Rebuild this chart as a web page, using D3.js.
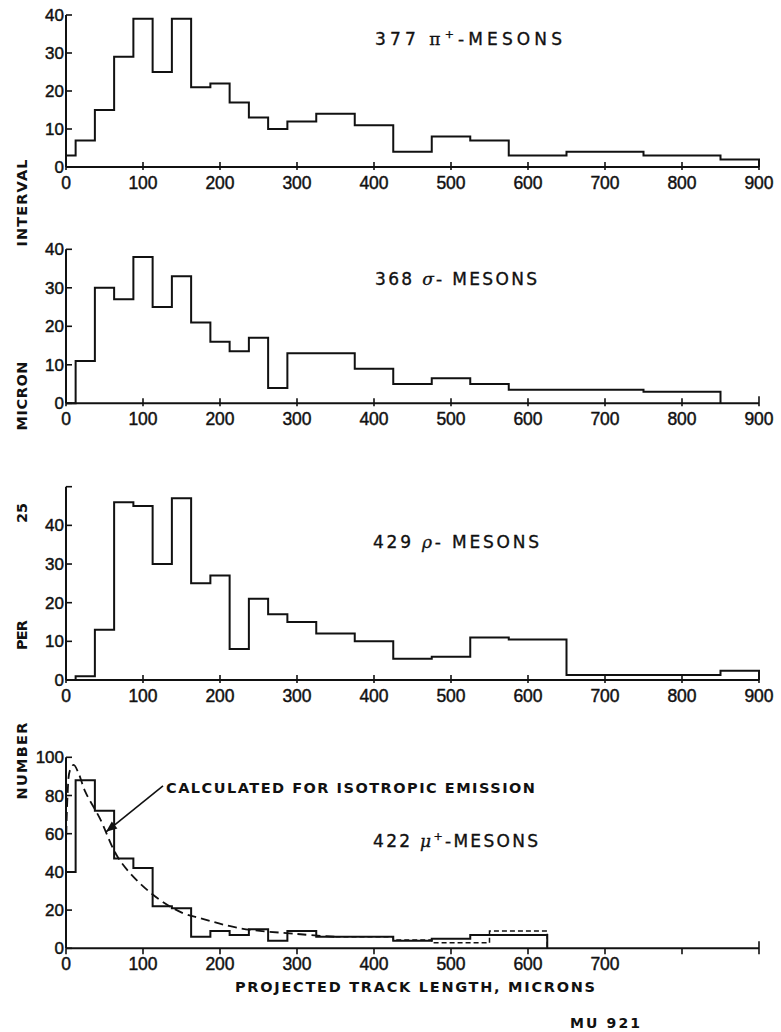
<!DOCTYPE html>
<html>
<head>
<meta charset="utf-8">
<script src="https://cdn.jsdelivr.net/npm/d3@7"></script>
<style>
  html, body { margin: 0; padding: 0; background: #fff; }
  svg { display: block; }
  text { fill: #111; }
</style>
</head>
<body>
<script>
// ---------------- DATA ----------------
// Bin edges (microns) and counts per 25-micron interval
const piEdges   = [0,12.5,37.5,62.5,87.5,112.5,137.5,162.5,187.5,212.5,237.5,262.5,287.5,325,375,425,475,525,575,650,750,850,900];
const piCounts  = [3,7,15,29,39,25,39,21,22,17,13,10,12,14,11,4,8,7,3,4,3,2];

const sigmaEdges  = [0,12.5,37.5,62.5,87.5,112.5,137.5,162.5,187.5,212.5,237.5,262.5,287.5,375,425,475,525,575,750,850];
const sigmaCounts = [0,11,30,27,38,25,33,21,16,13.5,17,4,13,9,5,6.5,5,3.5,3];

const rhoEdges  = [0,12.5,37.5,62.5,87.5,112.5,137.5,162.5,187.5,212.5,237.5,262.5,287.5,325,375,425,475,525,575,650,850,900];
const rhoCounts = [0,1,13,46,45,30,47,25,27,8,21,17,15,12,10,5.5,6,11,10.5,1.3,2.4];

const muEdges  = [0,12.5,37.5,62.5,87.5,112.5,137.5,162.5,187.5,212.5,237.5,262.5,287.5,325,425,475,525,625];
const muCounts = [40,88,72,47,42,22,21,6,9,7,10,4,9,6,4,5,7];

// Calculated curve for isotropic emission (mu+ panel)
const calcX = [0,2,5,10,16,25,44,70,113,152,174,226,300,350];
const calcY = [52,80,93,96,92,82,68,46,28,18.4,15.8,10.5,7.5,6];
const calcTailEdges = [350,425,475,550,625];
const calcTailY     = [6,4.3,2.9,9];

// Tick values / labels
const xTicksAll   = [0,100,200,300,400,500,600,700,800,900];
const xLabelsFull = ["0","100","200","300","400","500","600","700","800","900"];
const xLabelsMu   = ["0","100","200","300","400","500","600","700","",""];
const yTicks40  = [0,10,20,30,40];
const yTicks50  = [0,10,20,30,40,50];
const yLabels50 = ["0","10","20","30","40",""];
const yTicks100 = [0,20,40,60,80,100];

const yAxisWords = ["INTERVAL","MICRON","25","PER","NUMBER"];

// ---------------- DRAW ----------------
const W = 781, H = 1032;
const svg = d3.select("body").append("svg").attr("width", W).attr("height", H);
const FONT = "'DejaVu Sans', 'Liberation Sans', sans-serif";
const TICKFONT = "'Liberation Sans', 'DejaVu Sans', sans-serif";

const x = d3.scaleLinear().domain([0, 900]).range([66, 759]);

const panels = [
  { edges: piEdges, counts: piCounts, yMax: 40, range: [167, 15], yTicks: yTicks40, yLabels: yTicks40.map(String), xLabels: xLabelsFull },
  { edges: sigmaEdges, counts: sigmaCounts, yMax: 40, range: [403.3, 249.3], yTicks: yTicks40, yLabels: yTicks40.map(String), xLabels: xLabelsFull },
  { edges: rhoEdges, counts: rhoCounts, yMax: 50, range: [680, 486.7], yTicks: yTicks50, yLabels: yLabels50, xLabels: xLabelsFull },
  { edges: muEdges, counts: muCounts, yMax: 100, range: [948.3, 757.3], yTicks: yTicks100, yLabels: yTicks100.map(String), xLabels: xLabelsMu }
];

panels.forEach((p, i) => {
  const y = d3.scaleLinear().domain([0, p.yMax]).range(p.range);
  p.y = y;
  const g = svg.append("g");

  // x axis line
  g.append("line").attr("x1", x(0)).attr("x2", x(900)).attr("y1", y(0)).attr("y2", y(0))
    .attr("stroke", "#111").attr("stroke-width", 2);
  // x ticks
  g.selectAll(".xt").data(xTicksAll).enter().append("line")
    .attr("x1", d => x(d)).attr("x2", d => x(d))
    .attr("y1", d => y(0) + (i === 3 ? 6 : 3)).attr("y2", d => y(0) - (d === 900 ? 7 : (i === 3 ? 0 : 5)))
    .attr("stroke", "#111").attr("stroke-width", 1.6);
  // x labels
  g.selectAll(".xl").data(xTicksAll).enter().append("text")
    .attr("x", d => x(d)).attr("y", y(0) + 22)
    .attr("text-anchor", "middle")
    .attr("font-family", TICKFONT).attr("font-size", 17.5)
    .attr("stroke", "#111").attr("stroke-width", 0.45)
    .text((d, k) => p.xLabels[k]);

  // y axis line
  g.append("line").attr("x1", x(0)).attr("x2", x(0)).attr("y1", y(0)).attr("y2", y(p.yMax))
    .attr("stroke", "#111").attr("stroke-width", 2);
  // y ticks (inward)
  g.selectAll(".yt").data(p.yTicks).enter().append("line")
    .attr("x1", x(0)).attr("x2", x(0) + 6)
    .attr("y1", d => y(d)).attr("y2", d => y(d))
    .attr("stroke", "#111").attr("stroke-width", 1.6);
  g.selectAll(".yl").data(p.yTicks).enter().append("text")
    .attr("x", x(0) - 2).attr("y", d => y(d) + 6)
    .attr("text-anchor", "end")
    .attr("font-family", TICKFONT).attr("font-size", 17)
    .attr("stroke", "#111").attr("stroke-width", 0.45)
    .text((d, k) => p.yLabels[k]);

  // histogram step path
  const pts = [[p.edges[0], 0]];
  p.counts.forEach((c, k) => { pts.push([p.edges[k], c]); pts.push([p.edges[k + 1], c]); });
  pts.push([p.edges[p.edges.length - 1], 0]);
  const line = d3.line().x(d => x(d[0])).y(d => y(d[1]));
  g.append("path").attr("d", line(pts)).attr("fill", "none")
    .attr("stroke", "#111").attr("stroke-width", 2).attr("stroke-linejoin", "miter");
});

// Titles
const titleSpecs = [
  { num: "377", sym: "\u03C0", sup: "+", rest: "-MESONS", y: 45, x0: 375, len: 187 },
  { num: "368", sym: "\u03C3", sup: "", rest: "- MESONS", y: 285, x0: 375, len: 162 },
  { num: "429", sym: "\u03C1", sup: "", rest: "- MESONS", y: 548, x0: 373, len: 166 },
  { num: "422", sym: "\u03BC", sup: "+", rest: "-MESONS", y: 847, x0: 373, len: 165 }
];
titleSpecs.forEach(t => {
  const tx = svg.append("text").attr("x", t.x0).attr("y", t.y)
    .attr("font-family", FONT).attr("font-size", 17)
    .attr("stroke", "#111").attr("stroke-width", 0.35)
    .attr("textLength", t.len).attr("lengthAdjust", "spacing");
  tx.append("tspan").text(t.num + "  ");
  tx.append("tspan").attr("font-family", "'DejaVu Serif', serif").attr("font-style", t.sym === "\u03C0" ? "normal" : "italic").text(t.sym);
  if (t.sup) {
    tx.append("tspan").attr("dy", -7).attr("font-size", 11).text(t.sup);
    tx.append("tspan").attr("dy", 7).text(t.rest);
  } else {
    tx.append("tspan").text(t.rest);
  }
});

// Calculated curve (mu panel)
const yMu = panels[3].y;
const calcPts = calcX.map((v, k) => [v, calcY[k]]);
svg.append("path")
  .attr("d", d3.line().x(d => x(d[0])).y(d => yMu(d[1])).curve(d3.curveCatmullRom)(calcPts))
  .attr("fill", "none").attr("stroke", "#111").attr("stroke-width", 1.8)
  .attr("stroke-dasharray", "9,5");
const tailPts = [];
calcTailY.forEach((v, k) => { tailPts.push([calcTailEdges[k], v]); tailPts.push([calcTailEdges[k + 1], v]); });
tailPts.push([calcTailEdges[calcTailEdges.length - 1], 0]);
svg.append("path")
  .attr("d", d3.line().x(d => x(d[0])).y(d => yMu(d[1]))(tailPts))
  .attr("fill", "none").attr("stroke", "#111").attr("stroke-width", 1.5)
  .attr("stroke-dasharray", "5,3");

// Annotation arrow
const arrowFrom = [126, 85], arrowTo = [52, 61];
const ax1 = x(arrowFrom[0]), ay1 = yMu(arrowFrom[1]), ax2 = x(arrowTo[0]), ay2 = yMu(arrowTo[1]);
svg.append("line").attr("x1", ax1).attr("y1", ay1).attr("x2", ax2).attr("y2", ay2)
  .attr("stroke", "#111").attr("stroke-width", 1.6);
const ang = Math.atan2(ay2 - ay1, ax2 - ax1);
const ah = 11, aw = 4.5;
const bx = ax2 - ah * Math.cos(ang), by = ay2 - ah * Math.sin(ang);
svg.append("path")
  .attr("d", `M${ax2},${ay2}L${bx + aw * Math.sin(ang)},${by - aw * Math.cos(ang)}L${bx - aw * Math.sin(ang)},${by + aw * Math.cos(ang)}Z`)
  .attr("fill", "#111");
svg.append("text").attr("x", 166).attr("y", 793)
  .attr("font-family", FONT).attr("font-size", 14.5).attr("font-weight", "bold")
  .attr("textLength", 369).attr("lengthAdjust", "spacing")
  .text("CALCULATED FOR ISOTROPIC EMISSION");

// Axis title
svg.append("text").attr("x", 235).attr("y", 992)
  .attr("font-family", FONT).attr("font-size", 14.5).attr("font-weight", "bold")
  .attr("textLength", 360).attr("lengthAdjust", "spacing")
  .text("PROJECTED TRACK LENGTH, MICRONS");
svg.append("text").attr("x", 570).attr("y", 1028)
  .attr("font-family", FONT).attr("font-size", 14).attr("font-weight", "bold")
  .attr("textLength", 70).attr("lengthAdjust", "spacing")
  .text("MU 921");

// Rotated y-axis words
const yWordPos = [
  { cy: 203, len: 87 }, { cy: 396, len: 69 }, { cy: 513, len: 20 }, { cy: 635, len: 30 }, { cy: 761, len: 77 }
];
yAxisWords.forEach((w, k) => {
  const pos = yWordPos[k];
  svg.append("text")
    .attr("transform", `translate(27,${pos.cy}) rotate(-90)`)
    .attr("x", -pos.len / 2).attr("y", 0)
    .attr("font-family", FONT).attr("font-size", 14.5).attr("font-weight", "bold")
    .attr("textLength", pos.len).attr("lengthAdjust", "spacing")
    .text(w);
});
</script>
</body>
</html>
